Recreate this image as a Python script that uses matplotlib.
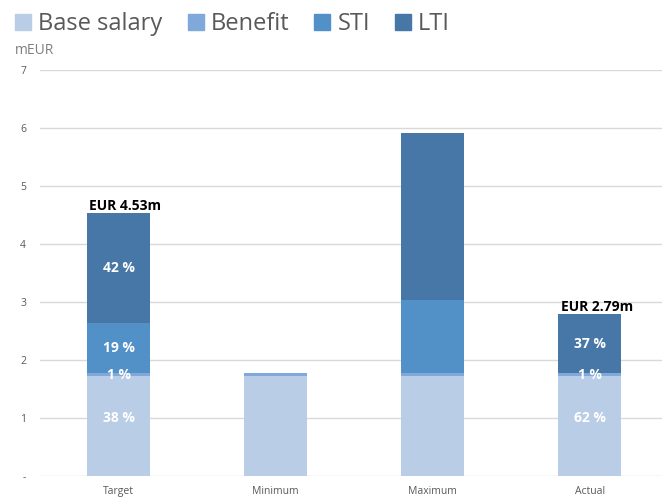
import numpy as np
import matplotlib.pyplot as plt
from matplotlib.lines import Line2D

# data
categories = ["Target", "Minimum", "Maximum", "Actual"]
series = ["Base salary", "Benefit", "STI", "LTI"]
base_salary = [1.72, 1.72, 1.72, 1.72]
benefit = [0.05, 0.05, 0.05, 0.05]
sti = [0.86, 0.0, 1.26, 0.0]
lti = [1.90, 0.0, 2.88, 1.02]
totals_text = {0: "EUR 4.53m", 3: "EUR 2.79m"}
pct_labels = {
    0: ["38 %", "1 %", "19 %", "42 %"],
    3: ["62 %", "1 %", None, "37 %"],
}

colors = ["#B9CDE7", "#7FA9DA", "#5290C8", "#4677A6"]
gray = "#595959"

plt.rcParams["font.family"] = ["Open Sans", "DejaVu Sans"]

W, H = 662, 497
fig = plt.figure(figsize=(W / 100, H / 100), dpi=100)
ax = fig.add_axes([40 / W, 21 / H, 622 / W, 406 / H])

x = np.arange(len(categories))
w = 0.4
stack = [base_salary, benefit, sti, lti]
bottom = np.zeros(len(categories))
for vals, c, name in zip(stack, colors, series):
    vals = np.array(vals)
    ax.bar(x, vals, w, bottom=bottom, color=c, zorder=3, label=name)
    bottom = bottom + vals

# percent labels inside bars (base label sits a bit above the middle)
for i, labs in pct_labels.items():
    b = 0.0
    for k, (vals, lab) in enumerate(zip(stack, labs)):
        v = vals[i]
        if lab is not None:
            dy = 6 if k == 0 else 0
            ax.annotate(lab, (x[i], b + v / 2), xytext=(0, dy), textcoords="offset points",
                        ha="center", va="center", color="white",
                        fontsize=10, fontweight="bold", zorder=5)
        b += v

# totals above bars
for i, t in totals_text.items():
    ax.text(x[i] - w / 2 + 0.015, bottom[i] + 0.06, t, ha="left", va="baseline",
            fontsize=10, fontweight="bold", color="black", zorder=5)

ax.set_ylim(0, 7)
ax.set_xlim(-0.5, 3.46)
ax.set_yticks(range(8))
ax.set_yticklabels(["-"] + [str(i) for i in range(1, 8)])
ax.set_xticks(x)
ax.set_xticklabels(categories)
ax.tick_params(axis="both", length=0, labelsize=7.5, colors=gray)
ax.tick_params(axis="y", pad=10)
ax.tick_params(axis="x", pad=7)
ax.grid(axis="y", color="#D9D9D9", linewidth=1, zorder=0)
for s in ax.spines.values():
    s.set_visible(False)

fig.text(15 / W, 1 - 51 / H, "mEUR", fontsize=10, color="#7F7F7F", ha="left", va="center")

handles = [Line2D([], [], marker="s", linestyle="none", markersize=11.5,
                  color=c) for c in colors]
fig.legend(handles, series, loc="center left", bbox_to_anchor=(15 / W, 1 - 24.5 / H),
           ncol=4, frameon=False, fontsize=17, labelcolor=gray,
           borderpad=0, borderaxespad=0,
           handletextpad=0.28, columnspacing=1.06, handlelength=0.7)

fig.savefig("out.png", dpi=100)
